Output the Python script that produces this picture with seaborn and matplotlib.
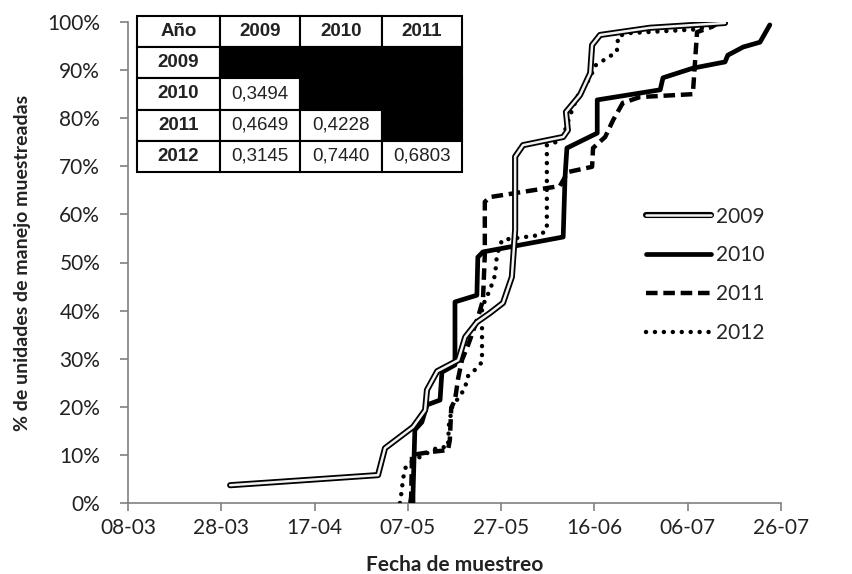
import numpy as np
import pandas as pd
import matplotlib
matplotlib.use("Agg")
import matplotlib.pyplot as plt
import matplotlib.patheffects as pe
import seaborn as sns

# ---------------- data (x = days since 08-03, y = %) ----------------
x2009 = [21.9, 53.6, 55.1, 61.1, 63.7, 64.1, 66.3, 70.8, 72.3, 74.8, 77.6, 80.4, 82.3,
         83.0, 83.0, 84.7, 93.3, 94.3, 93.9, 96.9, 99.1, 99.5, 101.2, 111.9, 128.0]
y2009 = [3.7, 5.8, 11.4, 15.8, 19.3, 23.5, 27.4, 29.7, 34.5, 37.6, 39.5, 41.6, 47.0,
         56.8, 72.0, 74.4, 76.1, 77.5, 81.3, 84.8, 89.4, 95.2, 97.3, 98.8, 99.8]

x2010 = [61.1, 61.1, 61.5, 63.0, 64.1, 66.9, 67.3, 70.1, 70.1, 74.8, 75.0, 76.1, 93.3,
         93.7, 94.1, 100.6, 100.6, 114.1, 114.7, 121.1, 128.0, 128.6, 131.9, 135.5, 137.6]
y2010 = [0.0, 1.7, 15.2, 16.8, 20.4, 21.4, 27.2, 28.7, 41.8, 43.2, 51.1, 52.2, 55.3,
         67.8, 73.8, 76.9, 83.8, 85.9, 88.4, 90.4, 91.7, 93.1, 94.8, 95.8, 99.4]

x2011 = [60.5, 60.7, 60.9, 64.8, 68.6, 69.0, 69.3, 70.1, 70.8, 71.6, 72.9, 75.0, 76.1,
         76.5, 76.5, 77.6, 92.6, 94.3, 99.5, 99.7, 102.3, 104.0, 106.1, 109.8, 121.1,
         122.0, 125.2, 126.9]
y2011 = [0.0, 1.2, 10.0, 10.6, 11.0, 13.1, 19.8, 21.4, 26.0, 29.7, 32.8, 38.5, 42.2,
         51.6, 62.6, 63.6, 65.9, 68.8, 69.9, 73.8, 76.1, 79.6, 83.2, 84.4, 85.0,
         97.9, 99.0, 100.0]

x2012 = [58.3, 58.5, 59.0, 59.6, 61.3, 66.5, 68.6, 68.8, 69.5, 70.8, 72.3, 72.7, 74.4,
         75.9, 75.9, 75.9, 77.6, 78.7, 79.1, 80.2, 88.3, 89.8, 89.8, 92.6, 93.7, 95.2,
         96.5, 99.1, 100.1, 102.7, 104.8, 105.1, 107.6, 122.6, 124.8]
y2012 = [0.0, 1.2, 5.2, 7.7, 8.9, 11.6, 11.6, 16.2, 20.0, 21.8, 23.9, 26.2, 27.7,
         29.3, 35.6, 40.7, 44.3, 47.4, 51.6, 54.7, 55.7, 56.8, 74.4, 75.3, 77.5, 81.7,
         84.8, 88.4, 90.9, 92.5, 93.8, 97.1, 97.7, 98.5, 99.6]

xticks = [0, 20, 40, 60, 80, 100, 120, 140]
xticklabels = ["08-03", "28-03", "17-04", "07-05", "27-05", "16-06", "06-07", "26-07"]
yticks = [0, 10, 20, 30, 40, 50, 60, 70, 80, 90, 100]

table_cols = ["Año", "2009", "2010", "2011"]
table_rows = ["2009", "2010", "2011", "2012"]
table_vals = [["", "", ""],
              ["0,3494", "", ""],
              ["0,4649", "0,4228", ""],
              ["0,3145", "0,7440", "0,6803"]]

# ---------------- plotting ----------------
sns.set_style("white")
plt.rcParams['font.family'] = ['Lato', 'DejaVu Sans']

fig = plt.figure(figsize=(8.53, 5.74), dpi=100)
ax = fig.add_axes([128/853, 1 - 503/574, 653/853, 481/574])

def df(x, y):
    return pd.DataFrame({"x": x, "y": y})

sns.lineplot(data=df(x2012, y2012), x="x", y="y", ax=ax, sort=False, estimator=None,
             color="black", lw=3.2, linestyle=(0, (0.01, 2.0)), dash_capstyle="round",
             label="2012", zorder=3)
sns.lineplot(data=df(x2011, y2011), x="x", y="y", ax=ax, sort=False, estimator=None,
             color="black", lw=3.2, linestyle=(0, (2.6, 1.3)), dash_capstyle="butt",
             label="2011", zorder=4)
sns.lineplot(data=df(x2010, y2010), x="x", y="y", ax=ax, sort=False, estimator=None,
             color="black", lw=3.4, solid_joinstyle="round", solid_capstyle="round",
             label="2010", zorder=5)
sns.lineplot(data=df(x2009, y2009), x="x", y="y", ax=ax, sort=False, estimator=None,
             color="#f2f2f2", lw=1.8, solid_joinstyle="round", solid_capstyle="round",
             label="2009", zorder=6,
             path_effects=[pe.Stroke(linewidth=4.4, foreground="black"), pe.Normal()])

ax.set_xlim(0, 140)
ax.set_ylim(0, 100)
ax.set_xticks(xticks)
ax.set_xticklabels(xticklabels)
ax.set_yticks(yticks)
ax.set_yticklabels([f"{v}%" for v in yticks])
ax.tick_params(axis="both", which="both", direction="out", length=6, width=1.2,
               color="#808080", labelsize=15, labelcolor="#222222",
               bottom=True, left=True)
ax.tick_params(axis="x", pad=5)
ax.tick_params(axis="y", pad=14)
for s in ["top", "right"]:
    ax.spines[s].set_visible(False)
for s in ["left", "bottom"]:
    ax.spines[s].set_color("#808080")
    ax.spines[s].set_linewidth(1.2)
ax.set_xlabel("Fecha de muestreo", fontsize=15, fontweight="bold", color="#222222", labelpad=12)
ax.set_ylabel("% de unidades de manejo muestreadas", fontsize=14, fontweight="bold",
              color="#222222", labelpad=12)

handles, labels = ax.get_legend_handles_labels()
order = [labels.index(l) for l in ["2009", "2010", "2011", "2012"]]
leg = ax.legend([handles[i] for i in order], [labels[i] for i in order],
                loc="upper left", bbox_to_anchor=(0.765, 0.655), frameon=False,
                fontsize=15, handlelength=3.1, labelspacing=0.9, handletextpad=0.25)

# ---------------- table ----------------
tax = fig.add_axes([137/853, 1 - 172/574, 325/853, 156/574])
tax.axis("off")
cell_text = [table_cols] + [[r] + v for r, v in zip(table_rows, table_vals)]
colours = [["white"] * 4]
for i, r in enumerate(table_rows):
    row = ["white"]
    for j in range(3):
        row.append("black" if j >= i else "white")
    colours.append(row)
tab = tax.table(cellText=cell_text, cellColours=colours, cellLoc="center",
                colWidths=[83, 80, 82, 80], bbox=[0, 0, 1, 1])
tab.auto_set_font_size(False)
for (r, c), cell in tab.get_celld().items():
    cell.set_linewidth(1.5)
    cell.set_edgecolor("black")
    t = cell.get_text()
    t.set_fontsize(13.5)
    t.set_family(["Liberation Sans Narrow", "Liberation Sans", "DejaVu Sans"])
    t.set_color("#222222")
    if r == 0 or c == 0:
        t.set_fontweight("bold")

fig.savefig("out.png", dpi=100)
